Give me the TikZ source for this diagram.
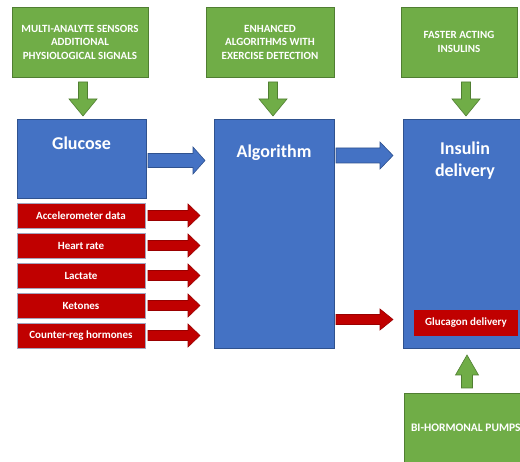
\documentclass[tikz,border=0pt]{standalone}
\usepackage{fontspec}
\setmainfont{Carlito}
\definecolor{boxblue}{HTML}{4472C4}
\definecolor{edgeblue}{HTML}{2F528F}
\definecolor{boxgreen}{HTML}{70AD47}
\definecolor{edgegreen}{HTML}{507E32}
\definecolor{boxred}{HTML}{C00000}
\definecolor{edgered}{HTML}{9A0000}
\definecolor{edgegrey}{HTML}{A4A4BE}
\newcommand{\blockarrow}[7][]{%
  % #2,#3: tail centre; #4: length; #5: shaft half width; #6: head half width; #7: head length
  \draw[#1] (#2,#3) ++(0,-#5) -- ++(#4-#7,0) -- ++(0,#5-#6) -- ++(#7,#6) -- ++(-#7,#6) -- ++(0,#5-#6) -- ++(-#4+#7,0) -- cycle;}
\begin{document}
\begin{tikzpicture}[x=1pt,y=-1pt,
  every node/.style={outer sep=0pt, inner sep=2pt, text=white, font=\bfseries},
  greenbox/.style={draw=edgegreen, fill=boxgreen, line width=0.8pt, anchor=north west, align=center, font=\bfseries\fontsize{11}{13.5}\selectfont},
  bluebox/.style={draw=edgeblue, fill=boxblue, line width=0.8pt, anchor=north west},
  redbox/.style={draw=edgegrey, fill=boxred, line width=0.7pt, anchor=north west, minimum width=128, minimum height=25, font=\bfseries\fontsize{11}{12}\selectfont},
  bigtxt/.style={font=\bfseries\fontsize{18}{22}\selectfont, align=center},
  garrow/.style={fill=boxgreen, draw=edgegreen, line width=0.6pt},
  barrow/.style={fill=boxblue, draw=edgeblue, line width=0.6pt},
  rarrow/.style={fill=boxred, draw=edgered, line width=0.6pt}]
\useasboundingbox (0,0) rectangle (520,462);
\clip (0,0) rectangle (520,462);
\fill[white] (0,0) rectangle (520,462);

% top row of green boxes
\node[greenbox, minimum width=136, minimum height=70] (sensors) at (12,7)
  {MULTI-ANALYTE SENSORS\\ADDITIONAL\\PHYSIOLOGICAL SIGNALS};
\node[greenbox, minimum width=128, minimum height=70] (enh) at (206,7)
  {ENHANCED\\ALGORITHMS WITH\\EXERCISE DETECTION};
\node[greenbox, minimum width=116, minimum height=70] (fast) at (401,7)
  {FASTER ACTING\\INSULINS};

% downward green arrows
\blockarrow[garrow, shift={(83,82)}, rotate=-90]{0}{0}{34}{4.5}{14}{17}
\blockarrow[garrow, shift={(273,82)}, rotate=-90]{0}{0}{34}{4.5}{14}{17}
\blockarrow[garrow, shift={(466,82)}, rotate=-90]{0}{0}{34}{4.5}{14}{17}

% main blue blocks
\node[bluebox, minimum width=129, minimum height=79] (glucose) at (17,119) {};
\node[bigtxt] (glucoseT) at (81.5,143) {Glucose};
\node[bluebox, minimum width=120, minimum height=229] (algo) at (214,119) {};
\node[bigtxt] (algoT) at (274,153) {Algorithm};
\node[bluebox, minimum width=130, minimum height=229] (insulin) at (403,119) {};
\node[bigtxt] (insulinT) at (465,161) {Insulin\\delivery};

% red signal boxes
\node[redbox] (acc) at (17,203) {Accelerometer data};
\node[redbox] (hr)  at (17,233) {Heart rate};
\node[redbox] (lac) at (17,263) {Lactate};
\node[redbox] (ket) at (17,293) {Ketones};
\node[redbox] (crh) at (17,323) {Counter-reg hormones};

% arrows into the algorithm
\blockarrow[barrow]{148}{160.5}{57}{7}{13.5}{12}
\foreach \yy in {215.5,245.5,275.5,305.5,335.5}
  {\blockarrow[rarrow]{148}{\yy}{52}{5}{11.5}{12}}

% arrows out of the algorithm
\blockarrow[barrow]{336}{155.5}{57}{7.5}{13.5}{13}
\blockarrow[rarrow]{336}{319.5}{57}{5}{10.5}{13}

\node[fill=boxred, anchor=north west, minimum width=104, minimum height=26,
  font=\bfseries\fontsize{11}{12}\selectfont] (glucagon) at (414,310) {Glucagon delivery};

% bi-hormonal pumps
\node[greenbox, minimum width=130, minimum height=80] (pumps) at (404,393) {};
\node[anchor=west, font=\bfseries\fontsize{11.5}{13}\selectfont] (pumpsT) at (409,428) {BI-HORMONAL PUMPS};
\blockarrow[garrow, shift={(467,388)}, rotate=90]{0}{0}{33}{5.5}{11.5}{20}
\end{tikzpicture}
\end{document}
